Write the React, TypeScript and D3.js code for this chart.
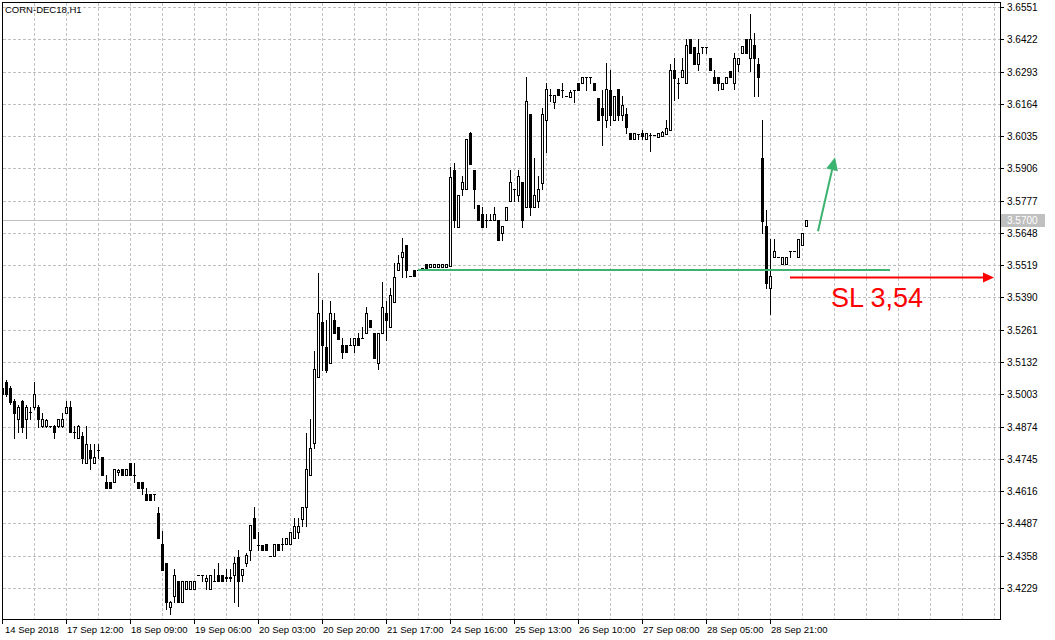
import React from 'react';
import * as d3 from 'd3';

const symbolTitle = 'CORN-DEC18,H1';

const opens = [
3.5027,3.5051,3.5027,3.4975,3.4903,3.4975,3.4903,3.4931,3.4951,3.4951,
3.4875,3.4875,3.4875,3.4875,3.4875,3.4875,3.4927,3.4951,3.4851,3.4827,
3.4835,3.4727,3.4779,3.4727,3.4779,3.4751,3.4651,3.4651,3.4651,3.4691,
3.4703,3.4679,3.4727,3.4679,3.4651,3.4651,3.4603,3.4603,3.4603,3.4527,
3.4403,3.4327,3.4155,3.4199,3.4255,3.4175,3.4227,3.4227,3.4227,3.4279,
3.4279,3.4255,3.4227,3.4255,3.4279,3.4279,3.4267,3.4267,3.4279,3.4351,
3.4279,3.4327,3.4379,3.4507,3.4399,3.4399,3.4403,3.4355,3.4355,3.4403,
3.4403,3.4403,3.4403,3.4427,3.4451,3.4503,3.4551,3.4679,3.4807,3.5071,
3.5291,3.5191,3.5127,3.5299,3.5271,3.5199,3.5199,3.5199,3.5199,3.5227,
3.5227,3.5247,3.5299,3.5247,3.5127,3.5247,3.5327,3.5271,3.5371,3.5499,
3.5551,3.5599,3.5475,3.5499,3.5499,3.5507,3.5523,3.5511,3.5511,3.5511,
3.5511,3.5511,3.5515,3.5899,3.5671,3.5823,3.5823,3.6047,3.5899,3.5759,
3.5723,3.5699,3.5699,3.5699,3.5699,3.5647,3.5699,3.5775,3.5823,3.5799,
3.5851,3.5751,3.6123,3.5751,3.5775,3.5847,3.6099,3.6199,3.6171,3.6223,
3.6219,3.6195,3.6191,3.6219,3.6247,3.6247,3.6271,3.6271,3.6247,3.6187,
3.6147,3.6099,3.6219,3.6099,3.6223,3.6119,3.6123,3.6047,3.6023,3.6043,
3.6047,3.6023,3.6039,3.6039,3.6031,3.6035,3.6043,3.6059,3.6299,3.6247,
3.6271,3.6247,3.6423,3.6391,3.6323,3.6391,3.6391,3.6347,3.6271,3.6271,
3.6223,3.6247,3.6295,3.6247,3.6323,3.6367,3.6423,3.6347,3.6399,3.6323,
3.5947,3.5675,3.5427,3.5551,3.5551,3.5523,3.5523,3.5575,3.5575,3.5551,
3.5599,3.5675];

const highs = [
3.5035,3.5059,3.5035,3.4983,3.4959,3.4979,3.4959,3.4951,3.5051,3.4959,
3.4927,3.4903,3.4875,3.4879,3.4903,3.4927,3.4975,3.4975,3.4875,3.4879,
3.4851,3.4875,3.4803,3.4803,3.4803,3.4751,3.4679,3.4651,3.4703,3.4703,
3.4703,3.4703,3.4727,3.4727,3.4651,3.4651,3.4627,3.4603,3.4603,3.4551,
3.4455,3.4327,3.4179,3.4303,3.4255,3.4255,3.4255,3.4255,3.4255,3.4279,
3.4279,3.4279,3.4279,3.4303,3.4327,3.4279,3.4303,3.4303,3.4351,3.4379,
3.4303,3.4367,3.4479,3.4551,3.4451,3.4399,3.4403,3.4355,3.4403,3.4403,
3.4427,3.4427,3.4451,3.4507,3.4507,3.4551,3.4847,3.4903,3.5175,3.5487,
3.5379,3.5299,3.5375,3.5327,3.5271,3.5227,3.5199,3.5227,3.5227,3.5247,
3.5271,3.5351,3.5299,3.5247,3.5247,3.5451,3.5375,3.5427,3.5527,3.5559,
3.5627,3.5599,3.5475,3.5499,3.5499,3.5507,3.5523,3.5523,3.5523,3.5523,
3.5523,3.5523,3.5911,3.5927,3.5799,3.5875,3.6023,3.6051,3.5899,3.5759,
3.5751,3.5723,3.5723,3.5751,3.5699,3.5675,3.5751,3.5899,3.5823,3.5899,
3.5851,3.6271,3.6123,3.5947,3.5875,3.6147,3.6247,3.6223,3.6199,3.6223,
3.6247,3.6195,3.6219,3.6219,3.6247,3.6271,3.6271,3.6271,3.6247,3.6187,
3.6219,3.6327,3.6299,3.6195,3.6223,3.6195,3.6147,3.6047,3.6047,3.6043,
3.6059,3.6047,3.6047,3.6039,3.6047,3.6055,3.6099,3.6323,3.6347,3.6267,
3.6347,3.6423,3.6423,3.6391,3.6423,3.6391,3.6391,3.6347,3.6299,3.6271,
3.6247,3.6271,3.6295,3.6367,3.6347,3.6395,3.6423,3.6523,3.6447,3.6347,
3.6099,3.5739,3.5623,3.5623,3.5551,3.5551,3.5551,3.5575,3.5575,3.5623,
3.5647,3.5700];

const lows = [
3.4995,3.4995,3.4963,3.4827,3.4851,3.4851,3.4827,3.4903,3.4943,3.4871,
3.4871,3.4871,3.4871,3.4827,3.4871,3.4871,3.4927,3.4851,3.4827,3.4827,
3.4727,3.4727,3.4703,3.4727,3.4747,3.4679,3.4627,3.4627,3.4651,3.4679,
3.4679,3.4679,3.4679,3.4651,3.4627,3.4603,3.4579,3.4579,3.4579,3.4427,
3.4299,3.4147,3.4127,3.4175,3.4175,3.4175,3.4227,3.4227,3.4227,3.4279,
3.4255,3.4227,3.4227,3.4255,3.4255,3.4255,3.4255,3.4255,3.4175,3.4159,
3.4255,3.4315,3.4339,3.4427,3.4379,3.4379,3.4379,3.4355,3.4355,3.4379,
3.4379,3.4403,3.4403,3.4427,3.4427,3.4475,3.4475,3.4679,3.4787,3.5071,
3.5099,3.5091,3.5127,3.5247,3.5223,3.5147,3.5171,3.5199,3.5171,3.5199,
3.5227,3.5247,3.5271,3.5147,3.5103,3.5247,3.5219,3.5271,3.5371,3.5499,
3.5471,3.5471,3.5475,3.5475,3.5499,3.5507,3.5503,3.5511,3.5511,3.5511,
3.5511,3.5511,3.5515,3.5671,3.5671,3.5799,3.5823,3.5923,3.5747,3.5699,
3.5671,3.5671,3.5699,3.5699,3.5619,3.5619,3.5699,3.5775,3.5775,3.5775,
3.5671,3.5751,3.5719,3.5751,3.5751,3.5823,3.5971,3.6175,3.6147,3.6199,
3.6191,3.6195,3.6191,3.6171,3.6219,3.6247,3.6219,3.6247,3.6219,3.6099,
3.5999,3.6071,3.6079,3.6099,3.6099,3.6099,3.6047,3.6023,3.6023,3.6023,
3.6023,3.6023,3.5975,3.6039,3.6031,3.6035,3.6043,3.6059,3.6179,3.6187,
3.6271,3.6247,3.6367,3.6323,3.6299,3.6367,3.6367,3.6299,3.6247,3.6219,
3.6223,3.6247,3.6271,3.6223,3.6295,3.6367,3.6367,3.6295,3.6195,3.6195,
3.5647,3.5427,3.5323,3.5551,3.5551,3.5523,3.5523,3.5551,3.5575,3.5551,
3.5599,3.5675];

const closes = [
3.5003,3.5003,3.4971,3.4927,3.4951,3.4871,3.4951,3.4931,3.5003,3.4903,
3.4903,3.4899,3.4875,3.4851,3.4903,3.4903,3.4951,3.4851,3.4851,3.4875,
3.4747,3.4803,3.4747,3.4751,3.4779,3.4679,3.4627,3.4627,3.4703,3.4699,
3.4679,3.4703,3.4679,3.4679,3.4627,3.4627,3.4579,3.4579,3.4603,3.4427,
3.4299,3.4175,3.4175,3.4279,3.4175,3.4255,3.4255,3.4255,3.4255,3.4279,
3.4279,3.4267,3.4279,3.4255,3.4255,3.4255,3.4271,3.4271,3.4327,3.4255,
3.4303,3.4359,3.4479,3.4427,3.4399,3.4379,3.4379,3.4355,3.4403,3.4379,
3.4403,3.4427,3.4451,3.4475,3.4475,3.4551,3.4703,3.4787,3.5103,3.5327,
3.5199,3.5099,3.5327,3.5247,3.5223,3.5171,3.5171,3.5199,3.5227,3.5199,
3.5227,3.5327,3.5271,3.5147,3.5247,3.5351,3.5299,3.5399,3.5471,3.5527,
3.5571,3.5499,3.5475,3.5475,3.5499,3.5507,3.5503,3.5523,3.5523,3.5523,
3.5523,3.5523,3.5871,3.5699,3.5799,3.5851,3.6023,3.5923,3.5823,3.5699,
3.5671,3.5699,3.5699,3.5723,3.5619,3.5675,3.5751,3.5851,3.5823,3.5875,
3.5699,3.6175,3.5751,3.5799,3.5823,3.6123,3.6223,3.6199,3.6199,3.6199,
3.6219,3.6195,3.6211,3.6219,3.6219,3.6271,3.6271,3.6271,3.6219,3.6099,
3.6119,3.6223,3.6119,3.6195,3.6119,3.6159,3.6071,3.6023,3.6047,3.6043,
3.6035,3.6047,3.6039,3.6039,3.6047,3.6051,3.6067,3.6299,3.6267,3.6247,
3.6299,3.6399,3.6367,3.6323,3.6367,3.6391,3.6391,3.6299,3.6247,3.6247,
3.6247,3.6271,3.6271,3.6347,3.6347,3.6395,3.6367,3.6423,3.6347,3.6271,
3.5695,3.5447,3.5475,3.5575,3.5551,3.5551,3.5551,3.5575,3.5575,3.5623,
3.5647,3.5700];

const priceTicks = [3.6551,3.6422,3.6293,3.6164,3.6035,3.5906,3.5777,3.5648,3.5519,3.5390,
3.5261,3.5132,3.5003,3.4874,3.4745,3.4616,3.4487,3.4358,3.4229];

const timeLabels = ['14 Sep 2018','17 Sep 12:00','18 Sep 09:00','19 Sep 06:00','20 Sep 03:00',
'20 Sep 20:00','21 Sep 17:00','24 Sep 16:00','25 Sep 13:00','26 Sep 10:00','27 Sep 08:00',
'28 Sep 05:00','28 Sep 21:00'];
const timeLabelBars = [0,16,32,48,64,80,96,112,128,144,160,176,192];

const lastPrice = 3.5700;
const supportLevel = { price: 3.5499, fromBar: 104, toBar: 222 };
const targetArrow = { fromBar: 204, fromPrice: 3.5655, toBar: 208.25, toPrice: 3.5951 };
const stopArrow = { fromBar: 197, toBar: 248, price: 3.5471 };
const stopLabel = { text: 'SL 3,54', bar: 207.25, price: 3.5351 };

const W = 1055, H = 640;
const FL = 2, FR = 1000, FT = 2, FB = 619;
const FONT = "'Liberation Sans', Arial, sans-serif";
const GREEN = '#3cb371';
const RED = '#ff0000';

function arrowHead(x1: number, y1: number, x2: number, y2: number, len: number, half: number) {
  const dx = x2 - x1, dy = y2 - y1;
  const d = Math.hypot(dx, dy);
  const ux = dx / d, uy = dy / d;
  const bx = x2 - ux * len, by = y2 - uy * len;
  const px = -uy, py = ux;
  return { base: [bx, by], pts: `${x2},${y2} ${bx + px * half},${by + py * half} ${bx - px * half},${by - py * half}` };
}

export default function App() {
  const x = d3.scaleLinear().domain([0, 249]).range([2, 998]);
  const y = d3.scaleLinear().domain([3.4229, 3.6551]).range([588, 7]);
  const ry = (p: number) => Math.round(y(p));

  const gridBars = d3.range(8, 250, 8);

  const candles = opens.map((o, i) => {
    const c = closes[i], h = highs[i], l = lows[i];
    const cx = Math.round(x(i));
    const top = ry(Math.max(o, c));
    const bot = ry(Math.min(o, c));
    const bull = c > o;
    return (
      <g key={i}>
        <line x1={cx + 0.5} x2={cx + 0.5} y1={ry(h)} y2={ry(l) + 1} stroke="#000" strokeWidth={1} />
        {top === bot ? (
          <line x1={cx - 1} x2={cx + 2} y1={top + 0.5} y2={top + 0.5} stroke="#000" strokeWidth={1} />
        ) : bull ? (
          <rect x={cx - 0.5} y={top + 0.5} width={2} height={bot - top} fill="#fff" stroke="#000" strokeWidth={1} />
        ) : (
          <rect x={cx - 1} y={top} width={3} height={bot - top + 1} fill="#000" />
        )}
      </g>
    );
  });

  const ga = { x1: x(targetArrow.fromBar), y1: y(targetArrow.fromPrice), x2: x(targetArrow.toBar), y2: y(targetArrow.toPrice) };
  const gh = arrowHead(ga.x1, ga.y1, ga.x2, ga.y2, 13, 6);
  const ra = { x1: x(stopArrow.fromBar), x2: x(stopArrow.toBar), y: Math.round(y(stopArrow.price)) + 0.5 };
  const rh = arrowHead(ra.x1, ra.y, ra.x2, ra.y, 11, 5);

  const lp = ry(lastPrice);

  return (
    <svg width={W} height={H} style={{ position: 'absolute', left: 0, top: 0, background: '#fff' }} shapeRendering="crispEdges">
      <defs>
        <clipPath id="plot">
          <rect x={FL + 1} y={FT + 1} width={FR - FL - 1} height={FB - FT - 1} />
        </clipPath>
      </defs>
      <rect x={0} y={0} width={W} height={H} fill="#fff" />
      <g stroke="#c0c0c0" strokeWidth={1} strokeDasharray="3,2">
        {gridBars.map((b) => (
          <line key={'v' + b} x1={Math.round(x(b)) + 0.5} x2={Math.round(x(b)) + 0.5} y1={FT + 1} y2={FB} />
        ))}
        {priceTicks.map((p) => (
          <line key={'h' + p} x1={FL + 1} x2={FR} y1={ry(p) + 0.5} y2={ry(p) + 0.5} />
        ))}
      </g>
      <line x1={FL + 1} x2={FR} y1={lp + 0.5} y2={lp + 0.5} stroke="#c0c0c0" strokeWidth={1} />
      <g clipPath="url(#plot)">{candles}</g>
      <line x1={x(supportLevel.fromBar)} x2={x(supportLevel.toBar)} y1={ry(supportLevel.price)} y2={ry(supportLevel.price)}
        stroke={GREEN} strokeWidth={2} />
      <g shapeRendering="auto">
        <line x1={ga.x1} y1={ga.y1} x2={gh.base[0]} y2={gh.base[1]} stroke={GREEN} strokeWidth={2} />
        <polygon points={gh.pts} fill={GREEN} />
        <line x1={ra.x1} y1={ra.y} x2={rh.base[0]} y2={ra.y} stroke={RED} strokeWidth={2} />
        <polygon points={rh.pts} fill={RED} />
        <text x={x(stopLabel.bar)} y={y(stopLabel.price)} fill={RED} fontFamily={FONT} fontSize={27}>{stopLabel.text}</text>
      </g>
      <rect x={FL + 0.5} y={FT + 0.5} width={FR - FL} height={FB - FT} fill="none" stroke="#000" strokeWidth={1} />
      <g fontFamily={FONT} fontSize={10} fill="#000" shapeRendering="auto">
        {priceTicks.map((p) => (
          <g key={'t' + p}>
            <line x1={FR} x2={FR + 4} y1={ry(p) + 0.5} y2={ry(p) + 0.5} stroke="#000" shapeRendering="crispEdges" />
            <text x={FR + 7} y={ry(p) + 4}>{p.toFixed(4)}</text>
          </g>
        ))}
        <rect x={FR + 1} y={lp - 6} width={44} height={13} fill="#c0c0c0" shapeRendering="crispEdges" />
        <text x={FR + 7} y={lp + 4} fill="#fff">{lastPrice.toFixed(4)}</text>
      </g>
      <g fontFamily={FONT} fontSize={9.5} fill="#000" shapeRendering="auto">
        {timeLabels.map((t, i) => {
          const bx = Math.round(x(timeLabelBars[i]));
          return (
            <g key={t}>
              <line x1={bx + 0.5} x2={bx + 0.5} y1={FB} y2={FB + 5} stroke="#000" shapeRendering="crispEdges" />
              <text x={bx + (i === 0 ? 3 : 1)} y={FB + 14}>{t}</text>
            </g>
          );
        })}
      </g>
      <text x={5} y={13} fontFamily={FONT} fontSize={9.5} fill="#000">{symbolTitle}</text>
    </svg>
  );
}
